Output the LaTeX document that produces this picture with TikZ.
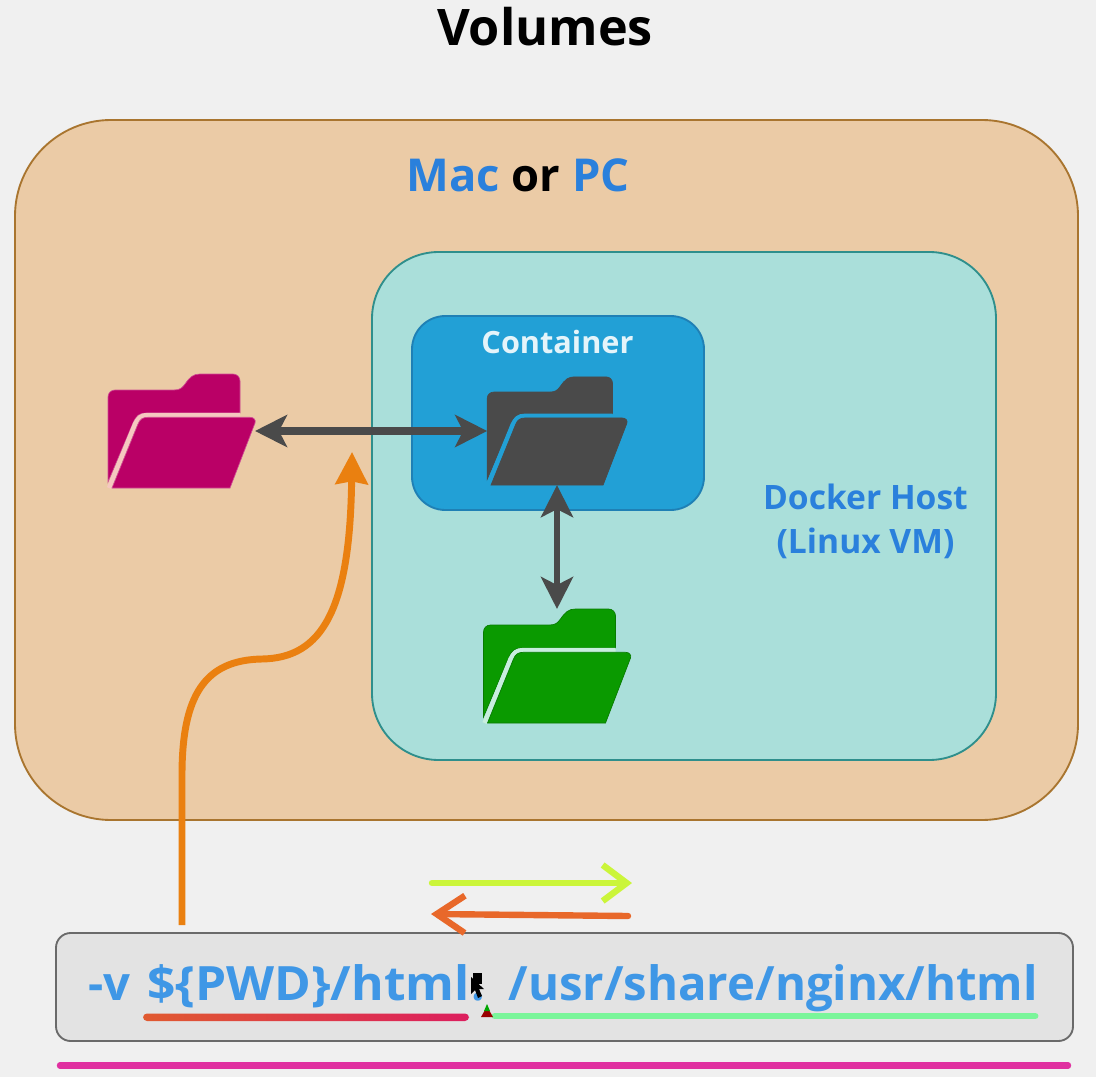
\documentclass[tikz,border=0pt]{standalone}
\usepackage{fontspec}
\setmainfont{Open Sans}
\usetikzlibrary{arrows.meta}
\definecolor{bgc}{HTML}{F0F0F0}
\definecolor{outerf}{HTML}{EBCBA6}
\definecolor{outerd}{HTML}{A9752F}
\definecolor{tealf}{HTML}{AADFDA}
\definecolor{teald}{HTML}{2F8F8C}
\definecolor{contf}{HTML}{22A0D6}
\definecolor{contd}{HTML}{1F80B5}
\definecolor{cmdf}{HTML}{E3E3E3}
\definecolor{cmdd}{HTML}{6A6A6A}
\definecolor{txtblue}{HTML}{2A80DC}
\definecolor{cmdblue}{HTML}{3F97E6}
\definecolor{darkc}{HTML}{4A4A4A}
\definecolor{orangec}{HTML}{EA8010}
\definecolor{limec}{HTML}{CBF53A}
\definecolor{redorc}{HTML}{E8682A}
\definecolor{greenul}{HTML}{7AF59A}
\definecolor{magln}{HTML}{E030A0}
\definecolor{magf}{HTML}{BA0066}
\definecolor{grnf}{HTML}{0A9A00}
\definecolor{ulleft}{HTML}{E05A30}
\definecolor{ulright}{HTML}{DC1E5E}
\definecolor{gapm}{HTML}{F5C8C0}
\definecolor{gapg}{HTML}{C8EEDE}
\tikzset{
  x=0.75pt,y=-0.75pt,
  panel/.style={draw,line width=1.4pt},
  foldernode/.style={inner sep=0pt,outer sep=0pt,minimum width=#1*147*0.75pt,minimum height=#1*114*0.75pt},
  dblarrow/.style={darkc,line width=5.8pt,{Stealth[length=24pt,width=24pt,inset=6pt]}-{Stealth[length=24pt,width=24pt,inset=6pt]}},
  orangearrow/.style={orangec,line width=5.2pt,-{Stealth[length=24pt,width=24pt,inset=2pt]}},
  scribble/.style={line width=4.8pt,line cap=round,line join=round},
  barb/.style={-{Straight Barb[length=18pt,width=27pt,line width=4.8pt]}},
  barbr/.style={-{Straight Barb[length=21pt,width=28pt,line width=4.8pt]}}
}
% #1 origin node, #2 scale, #3 fill colour, #4 edge colour, #5 gap colour
\newcommand{\folderdraw}[5]{%
  \begin{scope}[shift={(#1.north west)},scale=#2]
    \path[fill=#3,draw=#4,line width=0.5pt]
      (0,108) -- (0,23) .. controls (0,19) and (3,16) .. (7,16) -- (66,16)
      .. controls (72,16) and (74,14) .. (77,10) .. controls (82,3) and (85,0) .. (92,0)
      -- (125,0) .. controls (129,0) and (132,3) .. (132,7) -- (132,39) -- (38,39)
      .. controls (31,39) and (28,42) .. (25,49) -- cycle;
    \draw[#5,line width=3.3pt]
      (1,114) -- (27,50) .. controls (30,44) and (33,41) .. (40,41) -- (132,41);
    \path[fill=#3,draw=#4,line width=0.5pt]
      (4,114) -- (30,50) .. controls (32,45) and (35,43.3) .. (40,43.3) -- (142,43.3)
      .. controls (146,43.3) and (148,46) .. (147,49) -- (122,114) -- cycle;
  \end{scope}}
\begin{document}
\begin{tikzpicture}
\useasboundingbox (0,0) rectangle (1096,1077);
\fill[bgc] (0,0) rectangle (1096,1077);
\node[font=\bfseries\fontsize{37.8}{42}\selectfont,text=black] (title) at (545,27) {Volumes};

\draw[panel,draw=outerd,fill=outerf,rounded corners=72pt] (15,120) rectangle (1078,820);
\node[font=\bfseries\fontsize{34}{38}\selectfont] (mac) at (518,175) {\textcolor{txtblue}{Mac} \textcolor{black}{or} \textcolor{txtblue}{PC}};
\draw[panel,draw=teald,fill=tealf,rounded corners=50pt] (372,252) rectangle (996,760);
\draw[panel,draw=contd,fill=contf,rounded corners=25pt] (412,316) rectangle (704,510);
\node[font=\bfseries\fontsize{23}{26}\selectfont,text=white!88!contf] (cont) at (557.5,342) {Container};
\node[font=\bfseries\fontsize{25.2}{33}\selectfont,text=txtblue,align=center] (host) at (865.5,521) {Docker Host\\(Linux VM)};

\node[foldernode=1] (fm) at (181.5,431) {};
\node[foldernode=0.95] (fd) at (557,431) {};
\node[foldernode=1] (fg) at (557,666) {};
\folderdraw{fm}{1}{magf}{magf!70!white}{gapm}
\folderdraw{fd}{0.95}{darkc}{darkc}{contf}
\folderdraw{fg}{1}{grnf}{grnf!80!black}{gapg}

\draw[dblarrow] (fm.east) -- (fd.west);
\draw[dblarrow,line width=5.2pt] (fd.south) -- (fg.north);

\coordinate (os) at (182,925);
\coordinate (oe) at (352,452);
\draw[orangearrow] (os) -- (182,775) .. controls (182,695) and (205,660) .. (262,659)
   .. controls (322,658) and (350,610) .. (oe);

\draw[panel,draw=cmdd,fill=cmdf,rounded corners=11pt] (56,933) rectangle (1073,1041);
\node[font=\bfseries\fontsize{35.5}{40}\selectfont,text=cmdblue,anchor=base west,inner sep=0pt] (cmd) at (88,1000) {-v\hspace{3.5pt} \scalebox{1.05}[1]{\$\{PWD\}/html}\hspace{1pt}:\hspace{18pt}/usr/share/nginx/html};

% cursor
\fill[black] (473,973) rectangle (482,984);
\fill[black] (471,977) -- (471,994) -- (475,990) -- (478,998) -- (482,996) -- (479,989) -- (484,989) -- cycle;

% scribbles
\coordinate (la) at (432,883); \coordinate (lb) at (632,883);
\coordinate (ra) at (628,916); \coordinate (rb) at (431,914);
\draw[scribble,barb,limec] (la) -- (lb);
\draw[scribble,barbr,redorc] (ra) -- (rb);

\shade[left color=ulleft,right color=ulright,rounded corners=3pt] (143,1013.5) rectangle (469,1021);
\coordinate (ga) at (495,1016); \coordinate (gb) at (1035,1016);
\draw[scribble,greenul,line width=5.2pt] (ga) -- (gb);
\fill[red!60!black] (481,1017) -- (493,1017) -- (489,1010) -- (485,1010) -- cycle;
\fill[green!65!black] (484,1011) -- (490,1011) -- (487,1004) -- cycle;
\coordinate (ma) at (60,1065.5); \coordinate (mb) at (1068,1065.5);
\draw[scribble,magln] (ma) -- (mb);
\end{tikzpicture}
\end{document}
